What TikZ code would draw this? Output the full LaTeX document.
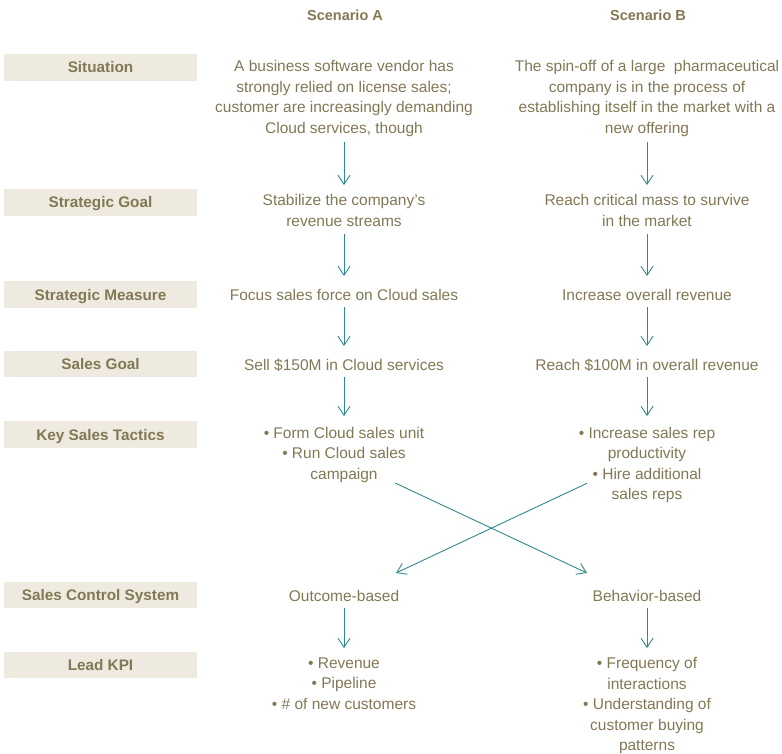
\documentclass[tikz,border=0pt]{standalone}
\usepackage{fontspec}
\setmainfont{Liberation Sans}
\usetikzlibrary{arrows.meta,calc}
\definecolor{olivetxt}{HTML}{827854}
\definecolor{boxfill}{HTML}{EEEAE0}
\definecolor{tealarr}{HTML}{2F8A8C}
\tikzset{
  body/.style={font=\fontsize{15.5}{20.5}\selectfont, text=olivetxt, align=center,
    inner sep=0pt, anchor=north, execute at begin node=\strut, execute at end node=\strut},
  lbl/.style={font=\fontsize{15.3}{18}\selectfont\bfseries, text=olivetxt, fill=boxfill,
    minimum width=193pt, minimum height=26.5pt, inner sep=0pt, text height=11pt, text depth=0pt},
  hdr/.style={font=\fontsize{14.5}{17}\selectfont\bfseries, text=olivetxt, inner sep=0pt, anchor=base},
  arr/.style={draw=tealarr, line width=0.9pt, -{Straight Barb[length=9pt,width=12pt]}}
}
\begin{document}
\begin{tikzpicture}[x=1pt,y=-1pt]
\useasboundingbox (0,0) rectangle (782,754);
% headers
\node[hdr] (hA) at (345,21) {Scenario A};
\node[hdr] (hB) at (648,21) {Scenario B};
% labels
\node[lbl] (l1) at (100.5,67.5) {Situation};
\node[lbl] (l2) at (100.5,202.5) {Strategic Goal};
\node[lbl] (l3) at (100.5,294.5) {Strategic Measure};
\node[lbl] (l4) at (100.5,364) {Sales Goal};
\node[lbl] (l5) at (100.5,434.7) {Key Sales Tactics};
\node[lbl] (l6) at (100.5,595) {Sales Control System};
\node[lbl] (l7) at (100.5,665) {Lead KPI};
% column A
\node[body] (sitA) at (344,60.15) {A business software vendor has\\strongly relied on license sales;\\customer are increasingly demanding\\Cloud services, though};
\node[body] (sgA) at (344,194.15) {Stabilize the company’s\\revenue streams};
\node[body] (smA) at (344,286.15) {Focus sales force on Cloud sales};
\node[body] (slA) at (344,356.15) {Sell \$150M in Cloud services};
\node[body] (tacA) at (344,426.65) {• Form Cloud sales unit\\• Run Cloud sales\\campaign};
\node[body] (ctrlA) at (344,587.15) {Outcome-based};
\node[body] (kpiA) at (344,657.15) {• Revenue\\• Pipeline\\• \# of new customers};
% column B
\node[body] (sitB) at (647,60.15) {The spin-off of a large \ pharmaceutical\\company is in the process of\\establishing itself in the market with a\\new offering};
\node[body] (sgB) at (647,194.15) {Reach critical mass to survive\\in the market};
\node[body] (smB) at (647,286.15) {Increase overall revenue};
\node[body] (slB) at (647,356.15) {Reach \$100M in overall revenue};
\node[body] (tacB) at (647,426.65) {• Increase sales rep\\productivity\\• Hire additional\\sales reps};
\node[body] (ctrlB) at (647,587.15) {Behavior-based};
\node[body] (kpiB) at (647,657.15) {• Frequency of\\interactions\\• Understanding of\\customer buying\\patterns};
% vertical arrows
\foreach \c in {A,B}{
  \draw[arr, shorten <=2.8pt, shorten >=9.1pt] (sit\c.south) -- (sg\c.north);
  \draw[arr, shorten <=1.8pt, shorten >=10.1pt] (sg\c.south) -- (sm\c.north);
  \draw[arr, shorten <=0.4pt, shorten >=10.1pt] (sm\c.south) -- (sl\c.north);
  \draw[arr, shorten <=0.4pt, shorten >=10.6pt] (sl\c.south) -- (tac\c.north);
  \draw[arr, shorten <=0.4pt, shorten >=9.1pt] (ctrl\c.south) -- (kpi\c.north);
}
% crossing arrows
\draw[arr] ($(tacA.south)+(51,-2.5)$) -- ($(ctrlB.north)+(-60,-14.15)$);
\draw[arr] ($(tacB.south)+(-60,-22.65)$) -- ($(ctrlA.north)+(52,-14.15)$);
\end{tikzpicture}
\end{document}
